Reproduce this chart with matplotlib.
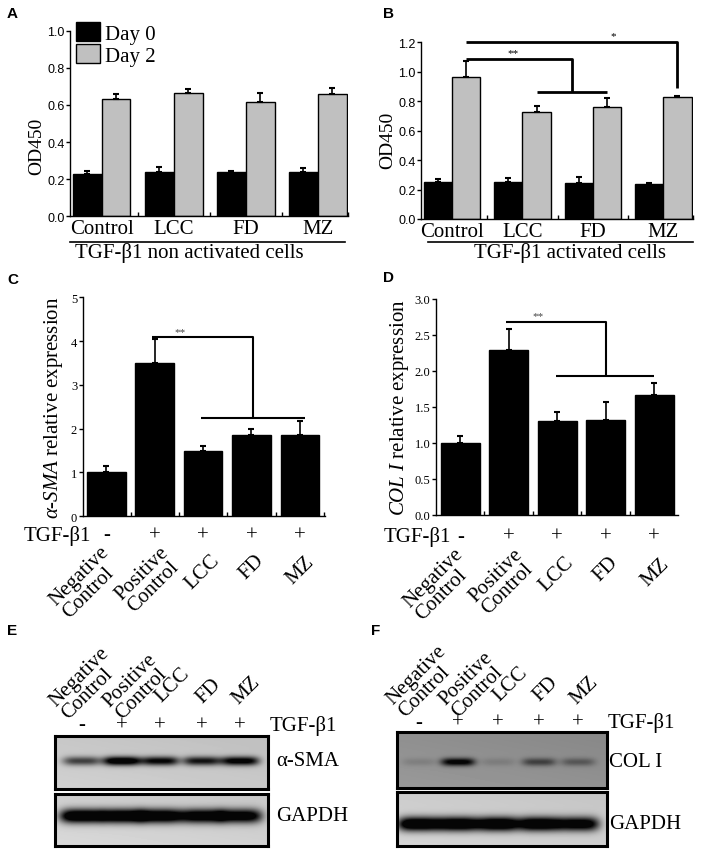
import numpy as np
import matplotlib
matplotlib.use('Agg')
import matplotlib.pyplot as plt
from matplotlib import transforms
from matplotlib.patches import Patch

# ---- data ----
groups = ['Control', 'LCC', 'FD', 'MZ']

a_day0 = [0.228, 0.240, 0.240, 0.237]
a_day0_err = [0.018, 0.024, 0.006, 0.022]
a_day2 = [0.632, 0.663, 0.614, 0.659]
a_day2_err = [0.027, 0.023, 0.050, 0.031]

b_day0 = [0.253, 0.253, 0.245, 0.238]
b_day0_err = [0.019, 0.023, 0.038, 0.007]
b_day2 = [0.967, 0.725, 0.763, 0.827]
b_day2_err = [0.108, 0.045, 0.059, 0.011]

treat_labels = ['Negative\nControl', 'Positive\nControl', 'LCC', 'FD', 'MZ']
tgf_signs = ['-', '+', '+', '+', '+']

sma_expr = [1.00, 3.50, 1.48, 1.86, 1.86]
sma_err = [0.15, 0.55, 0.13, 0.13, 0.32]
col_expr = [1.00, 2.29, 1.31, 1.32, 1.66]
col_err = [0.10, 0.30, 0.12, 0.25, 0.17]

# western blot band strengths (0 = none, 1 = very dark)
sma_bands = [0.55, 0.98, 0.80, 0.72, 0.86]
gapdh_e_bands = [1.15, 1.15, 1.12, 1.05, 1.0]
col_bands = [0.08, 0.62, 0.08, 0.32, 0.22]
gapdh_f_bands = [1.15, 1.15, 1.15, 1.12, 1.0]

# ---- layout (pixels of a 702x853 canvas) ----
W, H = 702, 853
SERIF = 'Liberation Serif'
SANS = 'Liberation Sans'
NARROW = ['Liberation Sans Narrow', 'Liberation Sans']
GREY = '#c0c0c0'

plt.rcParams['font.family'] = SERIF
plt.rcParams['mathtext.fontset'] = 'custom'
plt.rcParams['mathtext.rm'] = 'Liberation Serif'
plt.rcParams['mathtext.it'] = 'Liberation Serif:italic'

fig = plt.figure(figsize=(W / 100, H / 100), dpi=100)


def px_axes(l, t, r, b):
    return fig.add_axes([l / W, 1 - b / H, (r - l) / W, (b - t) / H])


def fy(y):
    return 1 - y / H


def fx(x):
    return x / W


def style_axes(ax, bounds, tick_family, tick_size):
    for s in ['top', 'right']:
        ax.spines[s].set_visible(False)
    for s in ['left', 'bottom']:
        ax.spines[s].set_linewidth(1.0)
    ax.tick_params(axis='y', direction='out', length=3, width=1, pad=1,
                   labelsize=tick_size, labelfontfamily=tick_family)
    ax.set_xticks(bounds, minor=True)
    ax.tick_params(axis='x', which='minor', direction='in', length=3, width=1)
    ax.tick_params(axis='x', which='major', length=0)


def bracket(ax, xs, ys, lw):
    ax.plot(xs, ys, color='black', lw=lw, clip_on=False, solid_capstyle='butt')


def od_panel(ax, d0, e0, d2, e2, ymax):
    x = np.arange(len(groups))
    ekw = dict(ecolor='black', elinewidth=1.2, capsize=2.5, capthick=1.5)
    ax.bar(x - 0.2, d0, 0.4, color='black', edgecolor='black', lw=1,
           yerr=[np.zeros(len(e0)), e0], error_kw=ekw)
    ax.bar(x + 0.2, d2, 0.4, color=GREY, edgecolor='black', lw=1,
           yerr=[np.zeros(len(e2)), e2], error_kw=ekw)
    ax.set_xlim(-0.44, 3.42)
    ax.set_ylim(0, ymax)
    ax.set_yticks(np.arange(0, ymax + 0.01, 0.2))
    ax.set_yticklabels(['%.1f' % v for v in np.arange(0, ymax + 0.01, 0.2)])
    ax.set_xticks(x)
    ax.set_xticklabels(groups, fontsize=15)
    ax.tick_params(axis='x', which='major', pad=2)
    style_axes(ax, [0.5, 1.5, 2.5, 3.42], NARROW, 9)
    ax.set_ylabel('OD450', fontsize=14)


def expr_panel(ax, vals, errs, ymax, step, fmt):
    x = np.arange(len(vals))
    ekw = dict(ecolor='black', elinewidth=1.2, capsize=2.5, capthick=1.5)
    ax.bar(x, vals, 0.8, color='black', edgecolor='black', lw=1,
           yerr=[np.zeros(len(errs)), errs], error_kw=ekw)
    ax.set_ylim(0, ymax)
    ticks = np.arange(0, ymax + 0.001, step)
    ax.set_yticks(ticks)
    ax.set_yticklabels([fmt % v for v in ticks])
    ax.set_xticks(x)
    ax.set_xticklabels([])
    style_axes(ax, [0.5, 1.5, 2.5, 3.5, 4.5], SERIF, 9)


def treat_row(ax, x_tgf, y_sign, y_lab, dxs, dys):
    tr = transforms.blended_transform_factory(ax.transData, fig.transFigure)
    fig.text(fx(x_tgf), fy(y_sign), 'TGF-β1', ha='left', va='center', fontsize=15)
    for i, (s, lab) in enumerate(zip(tgf_signs, treat_labels)):
        ax.text(i, fy(y_sign), s, transform=tr, ha='center', va='center', fontsize=15)
        off = transforms.offset_copy(tr, fig, x=dxs[i], y=-dys[i], units='dots')
        ax.text(i, fy(y_lab), lab, transform=off, rotation=45, ha='right', va='top',
                rotation_mode='anchor', multialignment='left', fontsize=15,
                linespacing=0.95)


def blot(l, t, r, b, lanes, band_y, amps, bg, sx, sy):
    ax = px_axes(l, t, r, b)
    w, h = r - l, b - t
    xx, yy = np.meshgrid(np.arange(w) + 0.5, np.arange(h) + 0.5)
    img = np.full((h, w), bg, dtype=float)
    img += 0.04 * (yy / h - 0.5) - 0.03 * (xx / w)
    for xc, a in zip(lanes, amps):
        img -= a * np.exp(-((xx - xc) / sx) ** 4) * np.exp(-((yy - band_y) / sy) ** 2)
    ax.imshow(np.clip(img, 0.02, 1), cmap='gray', vmin=0, vmax=1, extent=(0, w, h, 0),
              aspect='auto', interpolation='bilinear')
    ax.set_xlim(0, w)
    ax.set_ylim(h, 0)
    ax.set_xticks([])
    ax.set_yticks([])
    for s in ax.spines.values():
        s.set_linewidth(2.2)
    return ax


def blot_header(ax, lanes, y_sign, x_tgf, y_lab_pts, dxs):
    tr = transforms.blended_transform_factory(ax.transData, fig.transFigure)
    fig.text(fx(x_tgf), fy(y_sign), 'TGF-β1', ha='left', va='center', fontsize=15)
    for i, (s, lab) in enumerate(zip(tgf_signs, treat_labels)):
        ax.text(lanes[i], fy(y_sign), s, transform=tr, ha='center', va='center', fontsize=15)
        off = transforms.offset_copy(tr, fig, x=dxs[i], y=0, units='dots')
        ax.text(lanes[i], fy(y_lab_pts[i]), lab, transform=off, rotation=45, ha='left',
                va='bottom', rotation_mode='anchor', multialignment='left', fontsize=15,
                linespacing=0.95)


# ---- A ----
axA = px_axes(70, 31.7, 348, 217.3)
od_panel(axA, a_day0, a_day0_err, a_day2, a_day2_err, 1.0)
axA.yaxis.set_label_coords(-0.09, 0.38)
axA.legend(handles=[Patch(facecolor='black', edgecolor='black', label='Day 0'),
                    Patch(facecolor=GREY, edgecolor='black', label='Day 2')],
           loc='upper left', bbox_to_anchor=(0.02, 1.045), frameon=False, fontsize=15,
           handlelength=1.15, handleheight=1.0, handletextpad=0.25, labelspacing=0.02,
           borderaxespad=0, borderpad=0)
axA.plot([0.0, 0.99], [-0.138, -0.138], transform=axA.transAxes, color='black', lw=1.2,
         clip_on=False)
axA.text(0.43, -0.195, 'TGF-β1 non activated cells', transform=axA.transAxes,
         ha='center', va='center', fontsize=15)

# ---- B ----
axB = px_axes(421, 43.3, 693, 220)
od_panel(axB, b_day0, b_day0_err, b_day2, b_day2_err, 1.2)
axB.yaxis.set_label_coords(-0.092, 0.448)
bracket(axB, [0.2, 3.2, 3.2], [1.205, 1.205, 0.89], 2)
bracket(axB, [0.2, 1.7, 1.7], [1.087, 1.087, 0.861], 2)
bracket(axB, [1.2, 2.2], [0.861, 0.861], 2)
axB.text(2.29, 1.215, '*', ha='center', va='bottom', fontsize=8, clip_on=False)
axB.text(0.87, 1.097, '**', ha='center', va='bottom', fontsize=8, clip_on=False)
axB.plot([0.026, 1.0], [-0.13, -0.13], transform=axB.transAxes, color='black', lw=1.2,
         clip_on=False)
axB.text(0.548, -0.187, 'TGF-β1 activated cells', transform=axB.transAxes,
         ha='center', va='center', fontsize=15)

# ---- C ----
axC = px_axes(82.7, 298.3, 325, 517.3)
expr_panel(axC, sma_expr, sma_err, 5, 1, '%d')
axC.set_xlim(-0.49, 4.52)
axC.set_ylabel(r'$\mathit{\alpha}$-$\mathit{SMA}$ relative expression', fontsize=15)
axC.yaxis.set_label_coords(-0.075, 0.5)
bracket(axC, [0.95, 3.03, 3.03], [4.10, 4.10, 2.24], 1.5)
bracket(axC, [1.95, 4.1], [2.24, 2.24], 1.5)
axC.text(1.52, 4.12, '**', ha='center', va='bottom', fontsize=8, color='#444444')
treat_row(axC, 24, 536, 543, [-7, 4, 7, 3, 5], [0, 0, 8, 8, 10])

# ---- D ----
axD = px_axes(436, 300, 678, 516)
expr_panel(axD, col_expr, col_err, 3.0, 0.5, '%.1f')
axD.set_xlim(-0.50, 4.49)
axD.set_ylabel(r'$\mathit{COL\ I}$ relative expression', fontsize=15)
axD.yaxis.set_label_coords(-0.105, 0.5)
bracket(axD, [0.95, 3.01, 3.01], [2.685, 2.685, 1.935], 1.5)
bracket(axD, [1.98, 4.0], [1.935, 1.935], 1.5)
axD.text(1.6, 2.70, '**', ha='center', va='bottom', fontsize=8, color='#444444')
treat_row(axD, 384, 537, 545, [-7, 4, 7, 3, 5], [0, 0, 8, 8, 10])

# ---- E ----
lanesE = [27, 67, 105, 147, 185]
axE1 = blot(55, 737, 268, 790, lanesE, 25, sma_bands, 0.80, 19, 4.5)
axE2 = blot(55, 795, 268, 847, lanesE, 22, gapdh_e_bands, 0.83, 22, 7)
blot_header(axE1, lanesE, 726, 270, [724, 724, 707, 708, 709], [-10, 4, 5, 4, 2])
fig.text(fx(276), fy(762), 'α-SMA', ha='left', va='center', fontsize=15)
fig.text(fx(276), fy(817), 'GAPDH', ha='left', va='center', fontsize=15)

# ---- F ----
lanesF = [22, 61, 101, 142, 181]
axF1 = blot(397, 733, 607, 789, lanesF, 30, col_bands, 0.58, 17, 4)
axF2 = blot(397, 793, 607, 847, lanesF, 32, gapdh_f_bands, 0.82, 21, 7)
blot_header(axF1, lanesF, 723, 608, [722, 722, 706, 706, 709], [-10, 4, 5, 4, 2])
fig.text(fx(609), fy(763), 'COL I', ha='left', va='center', fontsize=15)
fig.text(fx(609), fy(825), 'GAPDH', ha='left', va='center', fontsize=15)

# panel letters
for lab, x, y in [('A', 7, 14), ('B', 383, 14), ('C', 7, 280), ('D', 383, 278),
                  ('E', 7, 631), ('F', 371, 631)]:
    fig.text(fx(x), fy(y), lab, family=SANS, fontweight='bold', fontsize=11,
             ha='left', va='center')

fig.savefig('out.png', dpi=100)
